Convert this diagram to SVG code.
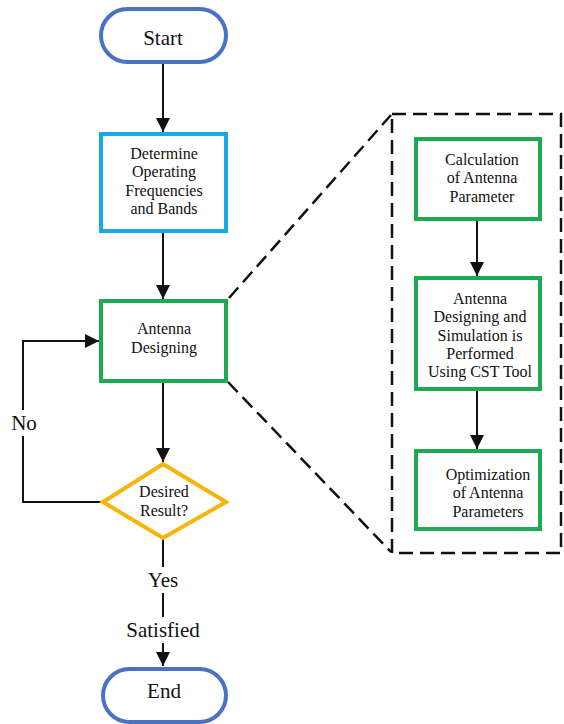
<svg xmlns="http://www.w3.org/2000/svg" width="564" height="724" viewBox="0 0 564 724" font-family="'Liberation Serif', 'DejaVu Serif', serif">
<style>
text{font-family:'Liberation Serif','DejaVu Serif',serif;fill:#111;text-anchor:middle}
.s{font-size:16px}
.l{font-size:21px}
.pill{fill:#fff;stroke:#4a72c4;stroke-width:4}
.blue{fill:#fff;stroke:#1ba8e6;stroke-width:4}
.green{fill:#fff;stroke:#1fa952;stroke-width:4}
.yellow{fill:#fff;stroke:#f5b50a;stroke-width:4}
.c{fill:none;stroke:#111;stroke-width:2}
.d{fill:none;stroke:#111;stroke-width:2.5;stroke-dasharray:14 7}
</style>
<defs>
<marker id="ah" viewBox="0 0 10 10" refX="10" refY="5" markerWidth="14" markerHeight="14" markerUnits="userSpaceOnUse" orient="auto">
<path d="M0,0 L10,5 L0,10 z" fill="#111"/>
</marker>
</defs>
<g id="connectors">
<line class="c" x1="163" y1="63" x2="163" y2="132" marker-end="url(#ah)"/>
<line class="c" x1="163" y1="233" x2="163" y2="299" marker-end="url(#ah)"/>
<line class="c" x1="163" y1="382" x2="163" y2="462" marker-end="url(#ah)"/>
<polyline class="c" points="103,502 23,502 23,341 99,341" marker-end="url(#ah)"/>
<line class="c" x1="163" y1="538" x2="163" y2="666" marker-end="url(#ah)"/>
<line class="c" x1="477" y1="220" x2="477" y2="276" marker-end="url(#ah)"/>
<line class="c" x1="477" y1="390" x2="477" y2="449" marker-end="url(#ah)"/>
<line class="d" x1="229" y1="298" x2="391" y2="115"/>
<line class="d" x1="228" y1="382" x2="391" y2="552"/>
<rect x="10" y="410" width="27" height="26" fill="#fff"/>
<text class="l" x="24" y="430">No</text>
<rect x="140" y="567" width="46" height="26" fill="#fff"/>
<text class="l" x="163" y="587">Yes</text>
<rect x="122" y="617" width="84" height="26" fill="#fff"/>
<text class="l" x="163" y="637">Satisfied</text>
</g>
<g id="dashed-box">
<rect class="d" x="392" y="114" width="169" height="439"/>
</g>
<g id="start">
<rect class="pill" x="101" y="9" width="125" height="53" rx="26.5"/>
<text class="l" x="163" y="45">Start</text>
</g>
<g id="determine">
<rect class="blue" x="101" y="134" width="125" height="97"/>
<text class="s" x="164" y="159">Determine</text>
<text class="s" x="164" y="177">Operating</text>
<text class="s" x="164" y="196">Frequencies</text>
<text class="s" x="164" y="214">and Bands</text>
</g>
<g id="antenna-designing">
<rect class="green" x="101" y="301" width="125" height="80"/>
<text class="s" x="164" y="334">Antenna</text>
<text class="s" x="164" y="353">Designing</text>
</g>
<g id="decision">
<polygon class="yellow" points="163,464 226,502 163,538 103,502"/>
<text class="s" x="164" y="497">Desired</text>
<text class="s" x="164" y="516">Result?</text>
</g>
<g id="end">
<rect class="pill" x="103" y="669" width="123" height="53" rx="26.5"/>
<text class="l" x="164" y="698">End</text>
</g>
<g id="calculation">
<rect class="green" x="416" y="139" width="124" height="80"/>
<text class="s" x="482" y="165">Calculation</text>
<text class="s" x="482" y="183">of Antenna</text>
<text class="s" x="482" y="202">Parameter</text>
</g>
<g id="simulation">
<rect class="green" x="416" y="278" width="124" height="111"/>
<text class="s" x="480" y="304">Antenna</text>
<text class="s" x="480" y="322">Designing and</text>
<text class="s" x="480" y="341">Simulation is</text>
<text class="s" x="480" y="359">Performed</text>
<text class="s" x="480" y="377">Using CST Tool</text>
</g>
<g id="optimization">
<rect class="green" x="416" y="451" width="124" height="78"/>
<text class="s" x="488" y="480">Optimization</text>
<text class="s" x="488" y="498">of Antenna</text>
<text class="s" x="488" y="517">Parameters</text>
</g>
</svg>
